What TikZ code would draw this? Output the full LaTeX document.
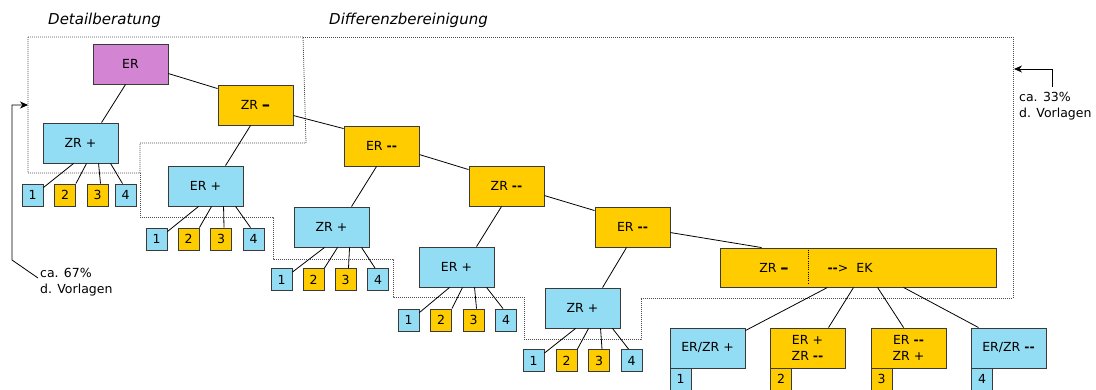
\documentclass[tikz,border=0pt]{standalone}
\usepackage{fontspec}
\setmainfont{DejaVu Sans}
\usetikzlibrary{arrows.meta}

\definecolor{skyfill}{HTML}{92DDF3}
\definecolor{goldfill}{HTML}{FFCC00}
\definecolor{lilacfill}{HTML}{D384D3}
\definecolor{edgegray}{HTML}{3A3A3A}

% bold dashes used in the labels
\newcommand\dashone{\raisebox{-1pt}{\fontsize{16.5}{16}\selectfont\bfseries\char"2013}}
\newcommand\dashtwo{\textbf{-{}-}}

\tikzset{
  box/.style={draw=edgegray, line width=0.9pt, minimum width=75pt, minimum height=40pt,
    inner sep=0pt, align=center, font=\fontsize{12.5}{15.5}\selectfont},
  blue box/.style={box, fill=skyfill},
  gold box/.style={box, fill=goldfill},
  lilac box/.style={box, fill=lilacfill},
  leaf/.style={draw=edgegray, line width=0.9pt, minimum width=21pt, minimum height=22pt,
    inner sep=0pt, font=\fontsize{12.5}{15}\selectfont},
  blue leaf/.style={leaf, fill=skyfill},
  gold leaf/.style={leaf, fill=goldfill},
  link/.style={line width=0.8pt, black},
  region/.style={line width=0.8pt, gray!60!black, dash pattern=on 0.9pt off 1.1pt},
  caption/.style={font=\fontsize{15}{18}\selectfont\itshape, anchor=base west, inner sep=0pt},
  note/.style={font=\fontsize{12.5}{15}\selectfont, anchor=base west, inner sep=0pt},
  pointer/.style={line width=0.8pt, -{Stealth[length=8pt,width=7pt,inset=2.5pt]}},
}

% links from a box to its four numbered sub-boxes
\newcommand\leaflinks[5]{%
  \draw[link] ([xshift=31pt]#1.south west) -- ([yshift=-4pt]#2.north east);
  \draw[link] ([xshift=44pt]#1.south west) -- (#3.north east);
  \draw[link] ([xshift=56pt]#1.south west) -- ([xshift=3pt]#4.north);
  \draw[link] ([xshift=68pt]#1.south west) -- ([xshift=-3pt]#5.north);
}

\begin{document}
\begin{tikzpicture}[x=1pt,y=-1pt]
\useasboundingbox (0,0) rectangle (1096,389);
\clip (0,0) rectangle (1096,389);

% phase regions
\draw[region] (28,37) -- (303,37) -- (306,143) -- (140,143) -- (140,173) -- (28,173) -- cycle;
\draw[region] (303,37) -- (1013,37) -- (1013,298) -- (641,298) -- (641,339) -- (524,339)
  -- (524,297) -- (393,297) -- (393,259) -- (273,259) -- (273,217) -- (140,217) -- (140,173);

\node[caption] (capdetail) at (48,24) {Detailberatung};
\node[caption] (capdiff) at (329,24) {Differenzbereinigung};

% main boxes
\node[lilac box] (er0) at (130.5,64) {ER};
\node[gold box] (zrm) at (255.5,105) {ZR \dashone};
\node[blue box] (zrp1) at (80.5,143) {ZR +};
\node[blue box] (erp2) at (205.5,186) {ER +};
\node[gold box] (ermm1) at (381.5,146) {ER \dashtwo};
\node[blue box] (zrp3) at (331.5,227) {ZR +};
\node[gold box] (zrmm) at (506.5,186) {ZR \dashtwo};
\node[blue box] (erp4) at (456.5,267) {ER +};
\node[gold box] (ermm2) at (632.5,227) {ER \dashtwo};
\node[blue box] (zrp5) at (582.5,308) {ZR +};

% conciliation box
\node[gold box, minimum width=276pt, minimum height=39pt] (ek) at (858,267.5) {};
\node[note, anchor=base] (ekzr) at (774,272) {ZR \dashone};
\node[note, anchor=base] (ekto) at (850,272) {\dashtwo>\hspace{8pt}EK};
\draw[line width=0.8pt, dash pattern=on 0.9pt off 1.3pt, black]
  ([xshift=89pt,yshift=-2pt]ek.north west) -- ([xshift=89pt,yshift=4pt]ek.south west);

% outcomes
\node[blue box] (b1) at (707.5,348) {ER/ZR +};
\node[gold box] (b2) at (807.5,348) {ER +\\ZR \dashtwo};
\node[gold box] (b3) at (908.5,348) {ER \dashtwo\\ZR +};
\node[blue box] (b4) at (1008.5,348) {ER/ZR \dashtwo};
\node[blue leaf] (n1) at (680.5,379) {1};
\node[gold leaf] (n2) at (781,379) {2};
\node[gold leaf] (n3) at (881.5,379) {3};
\node[blue leaf] (n4) at (982,379) {4};

% numbered sub-boxes
\node[blue leaf] (a1) at (32.5,195) {1};
\node[gold leaf] (a2) at (65,195) {2};
\node[gold leaf] (a3) at (97.5,195) {3};
\node[blue leaf] (a4) at (125.5,195) {4};

\node[blue leaf] (c1) at (156.5,239) {1};
\node[gold leaf] (c2) at (188.5,239) {2};
\node[gold leaf] (c3) at (221,239) {3};
\node[blue leaf] (c4) at (253.5,239) {4};

\node[blue leaf] (d1) at (281.5,279.5) {1};
\node[gold leaf] (d2) at (313.5,279.5) {2};
\node[gold leaf] (d3) at (345.5,279.5) {3};
\node[blue leaf] (d4) at (378,279.5) {4};

\node[blue leaf] (e1) at (408.5,320) {1};
\node[gold leaf] (e2) at (441,320) {2};
\node[gold leaf] (e3) at (473.5,320) {3};
\node[blue leaf] (e4) at (506,320) {4};

\node[blue leaf] (f1) at (533.5,360.5) {1};
\node[gold leaf] (f2) at (566.5,360.5) {2};
\node[gold leaf] (f3) at (599,360.5) {3};
\node[blue leaf] (f4) at (631.5,360.5) {4};

% chain of the main boxes
\draw[link] ([yshift=-30pt]er0.north east) -- ([yshift=-4pt]zrm.north west);
\draw[link] ([yshift=-31pt]zrm.north east) -- ([yshift=-3pt]ermm1.north west);
\draw[link] ([yshift=-29pt]ermm1.north east) -- ([yshift=-4pt]zrmm.north west);
\draw[link] ([yshift=-30pt]zrmm.north east) -- ([yshift=-4pt]ermm2.north west);
\draw[link] ([yshift=-26pt]ermm2.north east) -- ([xshift=42pt]ek.north west);

% branches down to the plus boxes
\draw[link] ([xshift=33pt]er0.south west) -- ([xshift=59pt]zrp1.north west);
\draw[link] ([xshift=33pt]zrm.south west) -- ([xshift=58pt]erp2.north west);
\draw[link] ([xshift=33pt]ermm1.south west) -- ([xshift=58pt]zrp3.north west);
\draw[link] ([xshift=33pt]zrmm.south west) -- ([xshift=58pt]erp4.north west);
\draw[link] ([xshift=32pt]ermm2.south west) -- ([xshift=58pt]zrp5.north west);

\leaflinks{zrp1}{a1}{a2}{a3}{a4}
\leaflinks{erp2}{c1}{c2}{c3}{c4}
\leaflinks{zrp3}{d1}{d2}{d3}{d4}
\leaflinks{erp4}{e1}{e2}{e3}{e4}
\leaflinks{zrp5}{f1}{f2}{f3}{f4}

% outcomes of the conciliation
\draw[link] ([xshift=108pt]ek.south west) -- ([yshift=-3pt]b1.north east);
\draw[link] ([xshift=134pt]ek.south west) -- ([xshift=59pt]b2.north west);
\draw[link] ([xshift=158pt]ek.south west) -- ([xshift=33pt]b3.north west);
\draw[link] ([xshift=184pt]ek.south west) -- ([xshift=8pt]b4.north west);

% share notes
\node[note] (left1) at (40,277) {ca. 67\%};
\node[note] (left2) at (40,293) {d. Vorlagen};
\node[note] (right1) at (1019,101.5) {ca. 33\%};
\node[note] (right2) at (1019,117.5) {d. Vorlagen};

\coordinate (lfoot) at (38,278);
\coordinate (lknee) at (12,260);
\coordinate (ltop) at (12,105);
\coordinate (lhit) at (28,105);
\draw[pointer] (lfoot) -- (lknee) -- (ltop) -- (lhit);

\coordinate (rfoot) at (1052,87);
\coordinate (rtop) at (1052,69);
\coordinate (rhit) at (1014,69);
\draw[pointer] (rfoot) -- (rtop) -- (rhit);
\end{tikzpicture}
\end{document}
